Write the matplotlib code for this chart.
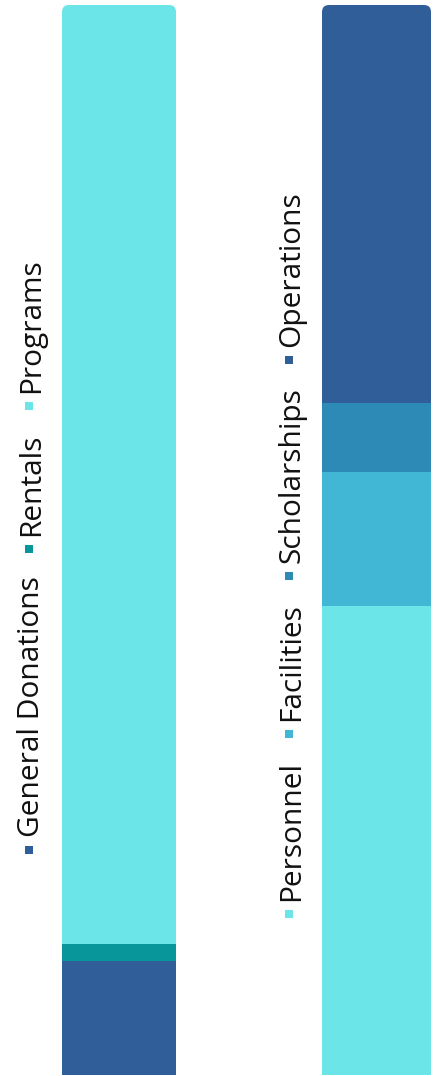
import matplotlib
matplotlib.use("Agg")
import matplotlib.pyplot as plt
from matplotlib.patches import FancyBboxPatch, Rectangle
from matplotlib.transforms import IdentityTransform

plt.rcParams['font.family'] = ['Open Sans', 'DejaVu Sans']

# -------- data (share of total, %) --------
income_labels = ["General Donations", "Rentals", "Programs"]
income_values = [10.7, 1.5, 87.8]
income_colors = ["#2F5E98", "#08969B", "#6CE5E8"]

expense_labels = ["Personnel", "Facilities", "Scholarships", "Operations"]
expense_values = [43.8, 12.6, 6.4, 37.2]
expense_colors = ["#6CE5E8", "#41B7D5", "#2D8AB6", "#2F5E98"]

W, H = 436, 1076
fig = plt.figure(figsize=(W / 100, H / 100), dpi=100)


def stacked_bar(left_px, width_px, values, colors):
    top_px, bot_px = 5, 1075
    ax = fig.add_axes([left_px / W, 1 - bot_px / H, width_px / W, (bot_px - top_px) / H])
    total = sum(values)
    ax.set_xlim(-0.5, 0.5)
    ax.set_ylim(0, total)
    ax.axis("off")
    # rounded top corners via a clip path
    px_x = 1.0 / width_px
    px_y = total / (bot_px - top_px)
    aspect = px_y / px_x
    r = 7 * px_x
    clip = FancyBboxPatch((-0.5, -total * 0.05), 1.0, total * 1.05,
                          boxstyle=f"round,pad=0,rounding_size={r}",
                          mutation_aspect=aspect, transform=ax.transData,
                          facecolor="none", edgecolor="none")
    ax.add_patch(clip)
    bottom = 0
    for v, c in zip(values, colors):
        bars = ax.bar(0, v, bottom=bottom, width=1.0, color=c, linewidth=0)
        for b in bars:
            b.set_clip_path(clip)
        bottom += v
    return ax


stacked_bar(62, 114, income_values, income_colors)
stacked_bar(322, 109, expense_values, expense_colors)


# -------- rotated legends --------
def rotated_legend(x_base, labels, colors, center_y, fs=21.5):
    renderer = fig.canvas.get_renderer()
    msize, gap1, gap2 = 8, 9, 23
    texts = []
    for lab in labels:
        t = fig.text(0, 0, lab, rotation=90, rotation_mode="anchor",
                     ha="left", va="baseline", fontsize=fs, color="#111111",
                     transform=IdentityTransform())
        texts.append(t)
    lengths = [t.get_window_extent(renderer).height for t in texts]
    total = sum(msize + gap1 + L for L in lengths) + gap2 * (len(labels) - 1)
    y = (H - center_y) - total / 2
    mx = x_base - 10
    for t, L, c in zip(texts, lengths, colors):
        fig.add_artist(Rectangle((mx - msize / 2, y), msize, msize, facecolor=c,
                                 edgecolor="none", transform=IdentityTransform()))
        y += msize + gap1
        t.set_position((x_base, y))
        y += L + gap2


rotated_legend(39, income_labels, income_colors, 556)
rotated_legend(299, expense_labels, expense_colors, 555)

fig.savefig("out.png", dpi=100)
